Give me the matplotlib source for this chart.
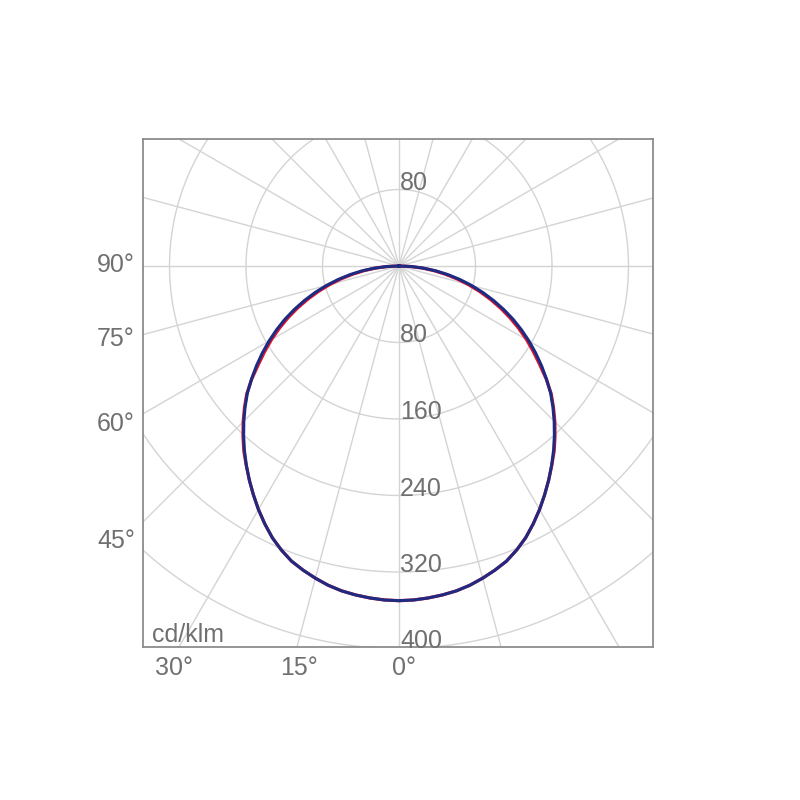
"""Polar luminous intensity diagram (cd/klm), C0/C180 and C90/C270 planes."""
import matplotlib
matplotlib.use("Agg")
import matplotlib.pyplot as plt
import numpy as np

plt.rcParams["font.family"] = ["Liberation Sans", "DejaVu Sans"]

# gamma angles (deg from nadir) and intensities
gamma = [0, 2.5, 5, 7.5, 10, 12.5, 15, 17.5, 20, 22.5, 25, 27.5, 30, 32.5, 35, 37.5,
         40, 42.5, 45, 47.5, 50, 52.5, 55, 57.5, 60, 62.5, 65, 67.5, 70, 72.5, 75,
         77.5, 80, 82.5, 85, 87.5, 90]
c0_c180 = [350, 349.6, 348.5, 347, 345, 342, 338, 333.5, 328.5, 321.5, 313.5, 304,
           294, 283.5, 273, 262.5, 252.5, 241.5, 230.5, 219.2, 207.8, 194, 179.5, 166.5, 154,
           141, 128, 114.8, 101.5, 88.3, 75, 62, 49, 36.5, 24, 12, 0]
c90_c270 = [350, 349.6, 348.5, 347, 345, 342, 338, 333.5, 328.5, 321.5, 313.5, 304,
            294, 283.5, 273, 262.3, 251.5, 240.5, 229.5, 218.3, 207, 194.5, 182, 169.5, 157,
            144.3, 131.5, 118.3, 105, 91.8, 78.5, 65.2, 52, 39, 26, 13, 0]

ring_values = [80, 160, 240, 320, 400]
side_labels = ["90°", "75°", "60°", "45°"]
bottom_labels = ["30°", "15°", "0°"]
unit = "cd/klm"

grid_col = "#d4d4d4"
text_col = "#707070"
red = "#e2142d"
blue = "#1d2b82"

# pixel geometry of the reference (800x800)
px = 76.5 / 80.0          # pixels per cd/klm
cx, cy = 399, 266         # origin in image pixels
left, right, top, bottom = 143, 653, 139, 647

fig = plt.figure(figsize=(8, 8), dpi=100)
ax = fig.add_axes([left / 800, (800 - bottom) / 800, (right - left) / 800, (bottom - top) / 800])
ax.set_xlim((left - cx) / px, (right - cx) / px)
ax.set_ylim(-(bottom - cy) / px, (cy - top) / px)
ax.set_xticks([])
ax.set_yticks([])
for s in ax.spines.values():
    s.set_color("#8c8c8c")
    s.set_linewidth(1.3)
    s.set_zorder(5)

# rings
t = np.linspace(0, 2 * np.pi, 721)
for r in ring_values:
    ax.plot(r * np.cos(t), r * np.sin(t), color=grid_col, lw=1.0, zorder=1)
# spokes every 15 deg
for a in range(0, 360, 15):
    ar = np.radians(a)
    ax.plot([0, 1000 * np.cos(ar)], [0, 1000 * np.sin(ar)], color=grid_col, lw=1.0, zorder=1)


def curve(vals):
    # left half (C180 / C270) mirrored on the right
    g = np.radians(np.array(gamma, dtype=float))
    v = np.array(vals, dtype=float)
    g_full = np.concatenate([-g[::-1], g[1:]])
    v_full = np.concatenate([v[::-1], v[1:]])
    return v_full * np.sin(g_full), -v_full * np.cos(g_full)


x, y = curve(c0_c180)
ax.plot(x, y, color=red, lw=2.3, zorder=3, solid_joinstyle="round")
x, y = curve(c90_c270)
ax.plot(x, y, color=blue, lw=2.2, zorder=4, solid_joinstyle="round")

fs = 18
# ring labels: one above the origin, the rest below
ax.text(1, ring_values[0], str(ring_values[0]), color=text_col, fontsize=fs,
        ha="left", va="baseline", zorder=6)
for r in ring_values:
    ax.text(1, -r, str(r), color=text_col, fontsize=fs, ha="left", va="baseline", zorder=6)

# angle labels left of the frame
side_y = [265, 339, 424, 541]
for lab, yy in zip(side_labels, side_y):
    fig.text(135 / 800, 1 - yy / 800, lab, color=text_col, fontsize=fs, ha="right", va="center")

# angle labels under the frame
bottom_x = [174, 299, 404]
for lab, xx in zip(bottom_labels, bottom_x):
    fig.text(xx / 800, 1 - 668 / 800, lab, color=text_col, fontsize=fs, ha="center", va="center")

fig.text(152 / 800, 1 - 642 / 800, unit, color=text_col, fontsize=fs, ha="left", va="baseline")

fig.savefig("out.png", dpi=100)
